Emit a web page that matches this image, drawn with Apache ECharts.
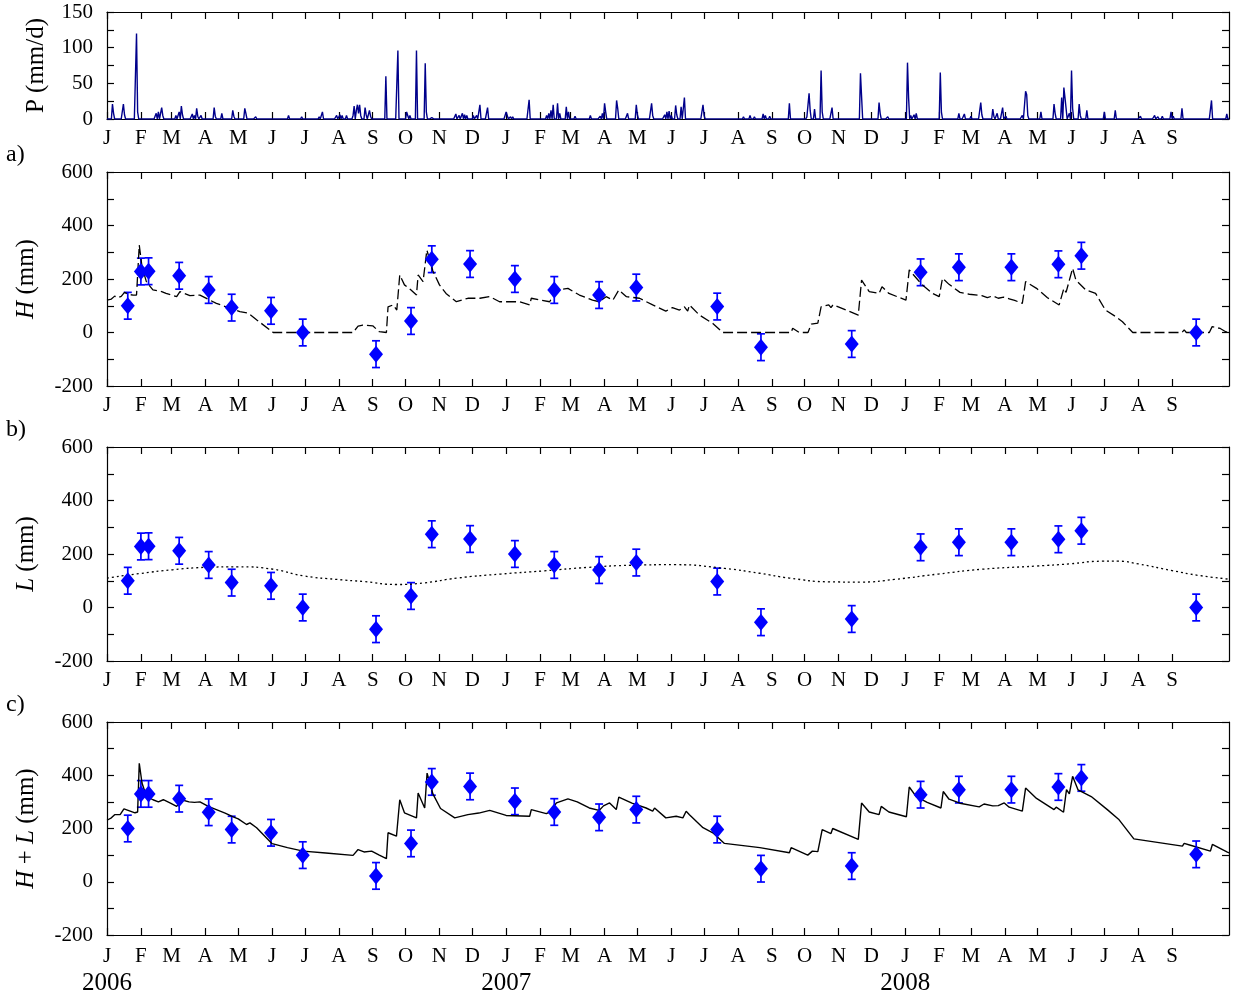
<!DOCTYPE html>
<html>
<head>
<meta charset="utf-8">
<title>P, H, L, H+L 2006-2008</title>
<script src="https://cdn.jsdelivr.net/npm/echarts@6/dist/echarts.min.js"></script>
<style>
  html, body { margin: 0; padding: 0; background: #fff; }
  #chart { width: 1239px; height: 999px; }
</style>
</head>
<body>
<div id="chart"></div>
<script>
// x axis runs in days since 2006-01-01
const DAY0 = Date.UTC(2006, 0, 1);
const lastDay = 1026;
const monthLetters = ['J', 'F', 'M', 'A', 'M', 'J', 'J', 'A', 'S', 'O', 'N', 'D'];
const monthCount = 33; // Jan 2006 .. Sep 2008

// precipitation, only the rainy days (all other days are 0)
const rainDay = [5, 6, 15, 16, 27, 28, 45, 47, 50, 51, 63, 66, 68, 69, 78, 80, 82, 83, 86, 98, 99, 105, 115, 116, 126, 127, 136,
  166, 178, 194, 197, 210, 213, 215, 219, 225, 226, 228, 229, 230, 231, 232, 236, 237, 240, 241, 255, 266, 274, 275, 277,
  283, 291, 292, 297, 319, 322, 325, 327, 329, 335, 338, 341, 348, 365, 366, 369, 371, 386, 402, 404, 406, 408, 412, 414,
  420, 422, 428, 442, 451, 453, 455, 456, 466, 467, 476, 484, 485, 498, 499, 510, 512, 514, 516, 520, 521, 525, 528, 545,
  546, 556, 582, 588, 592, 600, 602, 606, 624, 640, 641, 642, 643, 647, 653, 654, 663, 689, 690, 706, 707, 714, 732, 733,
  735, 738, 740, 762, 763, 779, 784, 790, 799, 800, 810, 811, 814, 819, 822, 837, 840, 841, 842, 854, 866, 867, 873, 875,
  876, 877, 880, 882, 883, 889, 890, 896, 912, 922, 945, 958, 961, 965, 973, 975, 983, 1010, 1024];
const rainMm = [21, 8, 21, 6, 120, 10, 8, 10, 16, 5, 5, 10, 18, 6, 7, 5, 15, 4, 5, 16, 4, 8, 12, 4, 15, 8, 3,
  5, 3, 3, 10, 5, 6, 5, 5, 5, 18, 12, 20, 8, 20, 5, 16, 6, 12, 4, 60, 96, 10, 5, 5,
  96, 78, 10, 2, 7, 5, 8, 6, 5, 5, 5, 20, 16, 10, 5, 3, 3, 27, 5, 8, 12, 20, 22, 8,
  17, 10, 4, 5, 4, 8, 22, 10, 26, 15, 8, 20, 6, 22, 5, 6, 10, 11, 5, 19, 6, 17, 30, 20,
  5, 2, 3, 5, 3, 7, 5, 4, 22, 3, 5, 36, 12, 14, 68, 10, 16, 64, 66, 23, 8, 3, 79, 30,
  5, 6, 8, 65, 10, 8, 7, 4, 23, 6, 14, 4, 8, 16, 4, 5, 39, 34, 5, 10, 21, 8, 30, 44,
  30, 15, 8, 68, 15, 21, 5, 12, 10, 12, 4, 5, 3, 4, 10, 4, 15, 26, 7];

// modelled H (dashed), [day, mm]
const hModel = [[0, 121], [4, 125], [7, 136], [10, 130], [13, 135], [16, 150], [20, 142], [24, 140], [27, 140], [29.5, 327],
  [32, 246], [36, 190], [42, 159], [50, 153], [54, 146], [63.7, 134], [66.7, 153], [75.8, 138], [85, 140], [94, 121],
  [100, 109], [109, 96], [121.5, 78], [129, 73], [137, 47], [152, 0], [225, 0], [229.6, 24], [234, 28], [243, 25],
  [249, 3], [255.5, 0], [257, 96], [261.6, 103], [265, 84], [267.7, 215], [272, 178], [278, 159], [283, 140],
  [284.5, 215], [289, 190], [292.5, 308], [298, 230], [304, 178], [310, 146], [319.5, 115], [330, 128], [341, 128],
  [350, 134], [359, 115], [377, 115], [386.5, 103], [388, 128], [404.8, 115], [411, 159], [421.5, 165], [432, 140],
  [444, 121], [450, 115], [456.5, 134], [462.6, 121], [468, 159], [475, 134], [487, 128], [499, 103], [511, 80],
  [517, 93], [523.5, 84], [528, 96], [531, 80], [532.6, 103], [541.8, 65], [554, 34], [563, 0], [625.6, 0], [627, 16],
  [633, 0], [641, 0], [644, 31], [650, 35], [653, 96], [660, 103], [662, 93], [664, 104], [687, 65], [690, 196],
  [697, 153], [706, 146], [708.7, 171], [715, 146], [730.6, 121], [733.6, 234], [745, 180], [755, 146], [761, 134],
  [764, 203], [770, 180], [780, 150], [788.5, 143], [800, 138], [805, 130], [810, 137], [815, 128], [820, 132],
  [825, 126], [830, 120], [837, 109], [840, 190], [850, 165], [860, 130], [870.7, 103], [875, 165], [877, 150],
  [883, 240], [886, 196], [895, 159], [904, 146], [913, 84], [922.5, 59], [928.6, 40], [938, 0], [983, 0], [985, 10],
  [987, 0], [1008, 0], [1010.6, 22], [1018, 15], [1023, 3], [1026, 0]];

// modelled L (dotted), [day, mm]
const lModel = [[0, 110], [30, 127], [60, 141], [90, 150], [120, 152], [152, 143], [180, 118], [210, 105], [235, 97],
  [265, 86], [290, 92], [320, 110], [360, 125], [400, 137], [440, 150], [480, 158], [520, 160], [565, 146], [597, 128],
  [624, 110], [660, 96], [690, 95], [720, 105], [760, 125], [800, 143], [850, 155], [880, 163], [910, 173], [925, 173],
  [943, 163], [974, 138], [998, 120], [1026, 106]];

// modelled H + L (solid), [day, mm]
const hlModel = [[0, 231], [4, 240], [7, 252], [12, 252], [15.5, 274], [25.6, 259], [28, 262], [29.5, 445], [32, 371],
  [36, 321], [42, 308], [47, 300], [51.5, 308], [58, 295], [63.7, 283], [68, 308], [75, 300], [80, 298], [85, 300],
  [92.6, 283], [100, 271], [108, 258], [115.4, 244], [120, 236], [127.6, 215], [130.7, 221], [136.8, 203], [151, 143],
  [165, 128], [179.4, 115], [200, 108], [225, 99], [229.6, 121], [235, 112], [242, 115], [249, 100], [255.5, 87],
  [257, 184], [264.7, 171], [267.7, 308], [272, 259], [283, 240], [284.5, 333], [290.5, 277], [292.7, 408], [298, 330],
  [305, 275], [318, 240], [330, 252], [340, 258], [350, 268], [365, 249], [386.5, 246], [388, 271], [401.7, 256],
  [405, 262], [411, 296], [421.5, 311], [430, 300], [441, 277], [450, 268], [454, 285], [459.6, 296], [465.7, 271],
  [468, 318], [480, 295], [493, 277], [499, 265], [500.7, 277], [511, 240], [520.5, 246], [526.6, 240], [529.6, 265],
  [532.6, 252], [545, 203], [554, 184], [564.6, 144], [597, 128], [624, 109], [625.6, 128], [640.8, 100], [645, 115],
  [650, 113], [654, 196], [662, 181], [663.6, 200], [687, 159], [690, 296], [697, 262], [706, 252], [708, 283],
  [715, 262], [731, 244], [733.6, 356], [740, 320], [750, 298], [762.6, 277], [764.7, 339], [770, 310], [780, 295],
  [797.6, 281], [802, 292], [810, 285], [815, 286], [820.5, 296], [825, 280], [837, 265], [840, 352], [850, 313],
  [866, 271], [868, 280], [874.7, 261], [877.4, 346], [880, 330], [883, 396], [888, 345], [900, 320], [915, 270],
  [925, 235], [939, 161], [983.4, 134], [985, 144], [990, 138], [1009, 115], [1010.8, 140], [1024.5, 111], [1026, 108]];

// observations with +/- error
const obsDate = ['2006-01-20', '2006-02-01', '2006-02-08', '2006-03-08', '2006-04-04', '2006-04-25', '2006-05-31',
  '2006-06-29', '2006-09-04', '2006-10-06', '2006-10-25', '2006-11-29', '2007-01-09', '2007-02-14', '2007-03-27',
  '2007-04-30', '2007-07-13', '2007-08-22', '2007-11-13', '2008-01-15', '2008-02-19', '2008-04-07', '2008-05-20',
  '2008-06-10', '2008-09-23'];
const hObs = [100, 228, 229, 212, 159, 93, 81, 0, -81, 43, 274, 256, 200, 159, 140, 168, 97, -55, -43, 225, 244, 244, 255, 287, 0];
const lObs = [100, 228, 229, 212, 159, 93, 81, 0, -81, 43, 274, 256, 200, 159, 140, 168, 97, -55, -43, 225, 244, 244, 255, 287, 0];
const hlObs = [200, 330, 330, 312, 261, 196, 184, 100, 22, 144, 375, 358, 302, 262, 242, 271, 196, 49, 59, 327, 346, 346, 356, 390, 103];
const obsErr = 50;

function dayOf(s) {
  const p = s.split('-');
  return (Date.UTC(+p[0], +p[1] - 1, +p[2]) - DAY0) / 86400000;
}

// month ticks
const monthTicks = [];
const monthInfo = {};
for (let k = 0; k < monthCount; k++) {
  const y = 2006 + Math.floor(k / 12), m = k % 12;
  const d = (Date.UTC(y, m, 1) - DAY0) / 86400000;
  monthTicks.push(d);
  monthInfo[d] = { letter: monthLetters[m], year: m === 0 ? String(y) : '' };
}

// daily precipitation series
const rainMap = {};
rainDay.forEach((d, i) => { rainMap[d] = rainMm[i]; });
const pSeries = [];
for (let d = 0; d <= lastDay; d++) pSeries.push([d, rainMap[d] || 0]);

const FONT = 'Liberation Serif';
const BLUE = '#0000ff';
const lineBlack = { color: '#000', width: 1.2 };

const grids = [
  { left: 107, width: 1122, top: 12, height: 107 },
  { left: 107, width: 1122, top: 172, height: 214 },
  { left: 107, width: 1122, top: 447, height: 214 },
  { left: 107, width: 1122, top: 722, height: 213 }
];

function makeX(gi, withYears) {
  const base = {
    gridIndex: gi, type: 'value', min: 0, max: lastDay,
    splitLine: { show: false },
    axisLine: { show: true, onZero: false, lineStyle: lineBlack },
    axisTick: { show: true, inside: true, length: 7, customValues: monthTicks, lineStyle: lineBlack }
  };
  const bottom = Object.assign({}, base, {
    position: 'bottom',
    axisLabel: {
      customValues: monthTicks, margin: 9, color: '#000', fontFamily: FONT, fontSize: 21,
      formatter: function (v) {
        const n = monthInfo[v];
        if (!n) return '';
        if (withYears && n.year) return '{m|' + n.letter + '}\n{y|' + n.year + '}';
        return withYears ? '{m|' + n.letter + '}' : n.letter;
      },
      rich: {
        m: { fontFamily: FONT, fontSize: 21, lineHeight: 24, color: '#000' },
        y: { fontFamily: FONT, fontSize: 25, lineHeight: 30, color: '#000' }
      }
    }
  });
  const top = Object.assign({}, base, { position: 'top', axisLabel: { show: false } });
  return [bottom, top];
}

function makeY(gi, max, step, labelStep, name, nameGap) {
  const base = {
    gridIndex: gi, type: 'value', min: gi === 0 ? 0 : -200, max: max, interval: step,
    splitLine: { show: false },
    axisLine: { show: true, onZero: false, lineStyle: lineBlack },
    axisTick: { show: true, inside: true, length: 7, lineStyle: lineBlack }
  };
  const left = Object.assign({}, base, {
    position: 'left',
    name: name, nameLocation: 'middle', nameGap: nameGap,
    nameTextStyle: {
      fontFamily: FONT, fontSize: 25, color: '#000',
      rich: { i: { fontFamily: FONT, fontSize: 25, fontStyle: 'italic', color: '#000' } }
    },
    axisLabel: {
      margin: 14, color: '#000', fontFamily: FONT, fontSize: 21,
      formatter: v => (v % labelStep === 0 ? String(v) : '')
    }
  });
  const right = Object.assign({}, base, { position: 'right', axisLabel: { show: false } });
  return [left, right];
}

function renderErr(params, api) {
  const x = api.value(0);
  const top = api.coord([x, api.value(2)]);
  const bot = api.coord([x, api.value(1)]);
  const w = 4;
  const style = { stroke: BLUE, lineWidth: 1.7 };
  return {
    type: 'group',
    children: [
      { type: 'line', shape: { x1: top[0], y1: top[1], x2: bot[0], y2: bot[1] }, style: style },
      { type: 'line', shape: { x1: top[0] - w, y1: top[1], x2: top[0] + w, y2: top[1] }, style: style },
      { type: 'line', shape: { x1: bot[0] - w, y1: bot[1], x2: bot[0] + w, y2: bot[1] }, style: style }
    ]
  };
}

function obsSeries(gi, values) {
  const errData = obsDate.map((s, i) => [dayOf(s), values[i] - obsErr, values[i] + obsErr]);
  const ptData = obsDate.map((s, i) => [dayOf(s), values[i]]);
  return [
    { type: 'custom', xAxisIndex: gi * 2, yAxisIndex: gi * 2, renderItem: renderErr, data: errData, z: 3 },
    {
      type: 'scatter', xAxisIndex: gi * 2, yAxisIndex: gi * 2, data: ptData,
      symbol: 'diamond', symbolSize: [14, 17], itemStyle: { color: BLUE, opacity: 1 }, z: 4
    }
  ];
}

const chart = echarts.init(document.getElementById('chart'));
const option = {
  animation: false,
  backgroundColor: '#fff',
  grid: grids,
  xAxis: [].concat(makeX(0, false), makeX(1, false), makeX(2, false), makeX(3, true)),
  yAxis: [].concat(
    makeY(0, 150, 25, 50, 'P (mm/d)', 58),
    makeY(1, 600, 100, 200, '{i|H} (mm)', 68),
    makeY(2, 600, 100, 200, '{i|L} (mm)', 68),
    makeY(3, 600, 100, 200, '{i|H} + {i|L} (mm)', 68)
  ),
  graphic: [
    { type: 'text', left: 6, top: 143, style: { text: 'a)', font: '24px "Liberation Serif"', fill: '#000' } },
    { type: 'text', left: 6, top: 418, style: { text: 'b)', font: '24px "Liberation Serif"', fill: '#000' } },
    { type: 'text', left: 6, top: 693, style: { text: 'c)', font: '24px "Liberation Serif"', fill: '#000' } }
  ],
  series: [
    {
      type: 'line', xAxisIndex: 0, yAxisIndex: 0, data: pSeries, showSymbol: false,
      lineStyle: { color: '#00008b', width: 1.4 }
    },
    {
      type: 'line', xAxisIndex: 2, yAxisIndex: 2, data: hModel, showSymbol: false,
      lineStyle: { color: '#000', width: 1.3, type: [10, 4] }
    },
    {
      type: 'line', xAxisIndex: 4, yAxisIndex: 4, data: lModel, showSymbol: false, smooth: true,
      lineStyle: { color: '#000', width: 1.3, type: [2, 3] }
    },
    {
      type: 'line', xAxisIndex: 6, yAxisIndex: 6, data: hlModel, showSymbol: false,
      lineStyle: { color: '#000', width: 1.4 }
    }
  ].concat(obsSeries(1, hObs), obsSeries(2, lObs), obsSeries(3, hlObs))
};
chart.setOption(option);
</script>
</body>
</html>
